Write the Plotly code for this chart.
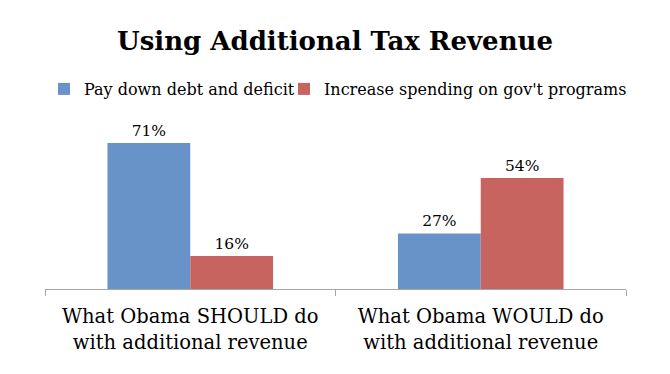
import plotly.graph_objects as go

categories = ["What Obama SHOULD do<br>with additional revenue",
              "What Obama WOULD do<br>with additional revenue"]
series_names = ["Pay down debt and deficit", "Increase spending on gov't programs"]
pay_down = [71, 27]
increase_spending = [16, 54]
colors = ["#6893C9", "#C8645F"]
FONT = "DejaVu Serif"

L, R, T, B, W, H = 45, 44, 110, 85, 670, 374
PW, PH = W - L - R, H - T - B

fig = go.Figure()
for i, (name, vals, col) in enumerate(zip(series_names, [pay_down, increase_spending], colors)):
    fig.add_trace(go.Bar(
        x=categories, y=vals, name=name, marker_color=col, marker_line_width=0,
        text=[f"{v}%" for v in vals], textposition="outside",
        textfont=dict(family=FONT, size=15.5, color="black"), cliponaxis=False,
        legend="legend" if i == 0 else "legend2",
    ))

leg_common = dict(orientation="h", xanchor="left", y=(H - B - 89) / PH, yanchor="middle",
                  font=dict(family=FONT, size=16, color="black"), itemwidth=30,
                  bgcolor="rgba(0,0,0,0)", borderwidth=0)

fig.update_layout(
    width=W, height=H,
    margin=dict(l=L, r=R, t=T, b=B),
    paper_bgcolor="white", plot_bgcolor="white",
    barmode="group", bargap=0.43, bargroupgap=0,
    title=dict(text="<b>Using Additional Tax Revenue</b>", x=0.5, xanchor="center",
               y=1 - 41 / H, yanchor="middle",
               font=dict(family=FONT, size=26, color="black")),
    legend=dict(x=(64 - 20 - L) / PW, **leg_common),
    legend2=dict(x=(304 - 20 - L) / PW, **leg_common),
    showlegend=True,
)
fig.update_xaxes(showline=True, linecolor="#A6A6A6", linewidth=1,
                 ticks="outside", tickson="boundaries", ticklen=6, tickcolor="#A6A6A6",
                 ticklabelstandoff=10,
                 tickfont=dict(family=FONT, size=19.5, color="black"), showgrid=False)
fig.update_yaxes(range=[0, PH / 2.056], visible=False, showgrid=False)

fig.write_html("out.html", config={"displayModeBar": False},
               post_script="document.body.style.margin='0';")
